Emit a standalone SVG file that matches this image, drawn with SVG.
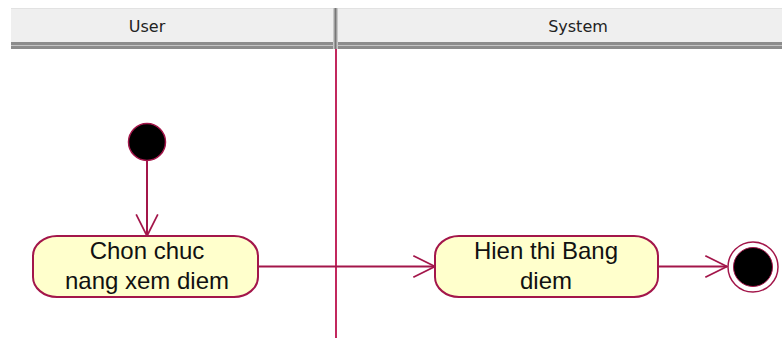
<svg xmlns="http://www.w3.org/2000/svg" width="782" height="338" viewBox="0 0 782 338">
  <style>
    .hdr { font-family: "DejaVu Sans", "Liberation Sans", sans-serif; font-size: 16px; fill: #222; text-anchor: middle; }
    .lbl { font-family: "Liberation Sans", Arial, sans-serif; font-size: 24px; fill: #111; text-anchor: middle; }
    .act { fill: #ffffcc; stroke: #a3164a; stroke-width: 2; }
    .flow { fill: none; stroke: #a3164a; stroke-width: 2; }
  </style>
  <defs>
    <marker id="open-arrow" markerUnits="userSpaceOnUse" markerWidth="26" markerHeight="26" viewBox="-22 -12 24 24" refX="0" refY="0" orient="auto">
      <path d="M-20,-10 L0,0 L-20,10" fill="none" stroke="#a3164a" stroke-width="1.6"/>
    </marker>
  </defs>
  <rect width="782" height="338" fill="#ffffff"/>

  <!-- swimlane header -->
  <g id="swimlanes">
    <rect x="11" y="8" width="771" height="34" fill="#efefef"/>
    <line x1="11" y1="8.5" x2="782" y2="8.5" stroke="#e2e2e2" stroke-width="1"/>
    <rect x="11" y="42" width="771" height="7" fill="#8c8c8c"/>
    <line x1="11" y1="45.5" x2="782" y2="45.5" stroke="#c4c4c4" stroke-width="1"/>
    <rect x="333" y="8" width="5" height="41" fill="#c8c8c8"/>
    <rect x="334.5" y="8" width="2" height="41" fill="#777777"/>
    <text class="hdr" x="147" y="32">User</text>
    <text class="hdr" x="578" y="32">System</text>
    <line x1="336" y1="49" x2="336" y2="338" stroke="#c2285e" stroke-width="2"/>
  </g>

  <!-- connectors -->
  <g id="connectors">
    <line class="flow" x1="147" y1="161" x2="147" y2="236" marker-end="url(#open-arrow)"/>
    <line class="flow" x1="258" y1="266.5" x2="435" y2="266.5" marker-end="url(#open-arrow)"/>
    <line class="flow" x1="658" y1="266.5" x2="727" y2="266.5" marker-end="url(#open-arrow)"/>
  </g>

  <!-- start -->
  <g id="start">
    <circle cx="147" cy="142" r="18.5" fill="#000000" stroke="#a3164a" stroke-width="1.5"/>
  </g>

  <!-- action: Chon chuc nang xem diem -->
  <g id="chon-chuc-nang">
    <rect class="act" x="33" y="236" width="225" height="61" rx="24" ry="20"/>
    <text class="lbl" x="147" y="259">Chon chuc</text>
    <text class="lbl" x="147" y="289">nang xem diem</text>
  </g>

  <!-- action: Hien thi Bang diem -->
  <g id="hien-thi-bang-diem">
    <rect class="act" x="435" y="236" width="223" height="61" rx="24" ry="20"/>
    <text class="lbl" x="546" y="259">Hien thi Bang</text>
    <text class="lbl" x="546" y="289">diem</text>
  </g>

  <!-- end -->
  <g id="end">
    <circle cx="753" cy="267" r="25" fill="#ffffff" stroke="#a3164a" stroke-width="1.5"/>
    <circle cx="753" cy="267" r="19.5" fill="#000000" stroke="#a3164a" stroke-width="1"/>
  </g>
</svg>
